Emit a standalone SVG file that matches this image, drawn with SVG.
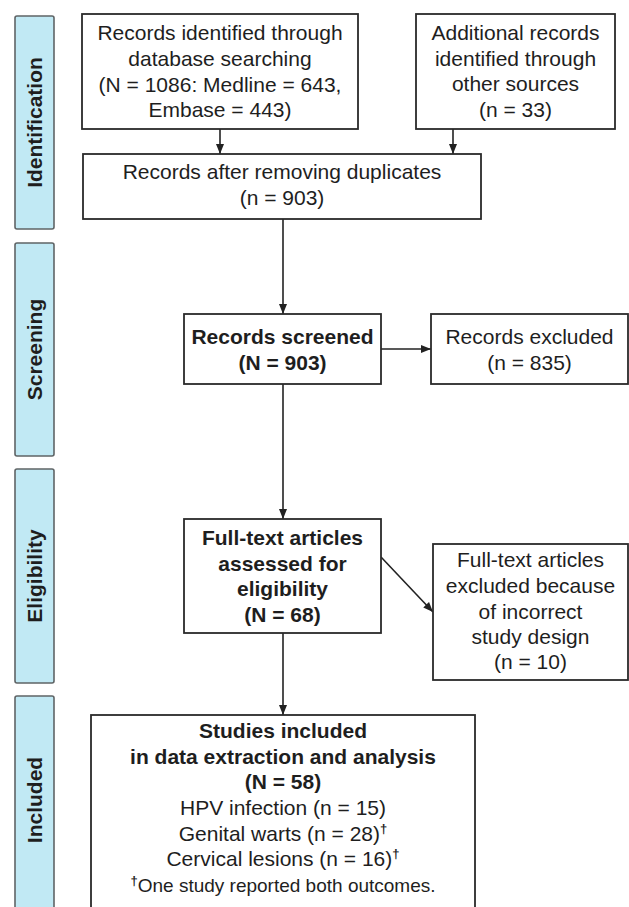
<svg xmlns="http://www.w3.org/2000/svg" width="629" height="907" viewBox="0 0 629 907">
<defs>
<marker id="ah" viewBox="0 0 10 10" refX="10" refY="5" markerWidth="10" markerHeight="10" markerUnits="userSpaceOnUse" orient="auto">
<path d="M0,1 L10,5 L0,9 Z" fill="#222"/>
</marker>
<style>
.bar{fill:#c1e9f4;stroke:#5f6466;stroke-width:1.6}
.bl{font-family:"Liberation Sans",Arial,sans-serif;font-size:21px;font-weight:bold;fill:#1e1e1e;text-anchor:middle}
.box{fill:#fff;stroke:#2a2a2a;stroke-width:1.8}
.t{font-family:"Liberation Sans",Arial,sans-serif;font-size:21px;fill:#1e1e1e;text-anchor:middle}
.b{font-weight:bold}
.fn{font-size:19px}
.sup{font-size:13px}
.c{stroke:#222;stroke-width:1.6;fill:none;marker-end:url(#ah)}
</style>
</defs>
<rect width="629" height="907" fill="#fff"/>

<g id="phase-identification">
<rect class="bar" x="15" y="16" width="39" height="213" rx="2"/>
<text class="bl" transform="translate(42,122.5) rotate(-90)">Identification</text>
</g>
<g id="phase-screening">
<rect class="bar" x="15" y="243" width="39" height="213" rx="2"/>
<text class="bl" transform="translate(42,349.5) rotate(-90)">Screening</text>
</g>
<g id="phase-eligibility">
<rect class="bar" x="15" y="469" width="39" height="214" rx="2"/>
<text class="bl" transform="translate(42,576) rotate(-90)">Eligibility</text>
</g>
<g id="phase-included">
<rect class="bar" x="15" y="696" width="39" height="230" rx="2"/>
<text class="bl" transform="translate(42,800) rotate(-90)">Included</text>
</g>

<g id="connectors">
<line class="c" x1="220" y1="129" x2="220" y2="154"/>
<line class="c" x1="453" y1="129" x2="453" y2="154"/>
<line class="c" x1="283" y1="219" x2="283" y2="314"/>
<line class="c" x1="381" y1="349" x2="431" y2="349"/>
<line class="c" x1="283" y1="384" x2="283" y2="519"/>
<line class="c" x1="381" y1="557" x2="433" y2="612"/>
<line class="c" x1="283" y1="633" x2="283" y2="715"/>
</g>

<g id="db-records">
<rect class="box" x="82" y="14" width="276" height="115"/>
<text class="t" x="220" y="40">Records identified through</text>
<text class="t" x="220" y="66">database searching</text>
<text class="t" x="220" y="92">(N = 1086: Medline = 643,</text>
<text class="t" x="220" y="117">Embase = 443)</text>
</g>
<g id="other-records">
<rect class="box" x="416" y="14" width="199" height="115"/>
<text class="t" x="515.5" y="40">Additional records</text>
<text class="t" x="515.5" y="66">identified through</text>
<text class="t" x="515.5" y="91">other sources</text>
<text class="t" x="515.5" y="117">(n = 33)</text>
</g>
<g id="dedup">
<rect class="box" x="83" y="154" width="398" height="65"/>
<text class="t" x="282" y="179">Records after removing duplicates</text>
<text class="t" x="282" y="205">(n = 903)</text>
</g>
<g id="screened">
<rect class="box" x="184" y="314" width="197" height="70"/>
<text class="t b" x="282.5" y="344">Records screened</text>
<text class="t b" x="282.5" y="370">(N = 903)</text>
</g>
<g id="excluded">
<rect class="box" x="431" y="314" width="197" height="70"/>
<text class="t" x="529.5" y="344">Records excluded</text>
<text class="t" x="529.5" y="370">(n = 835)</text>
</g>
<g id="fulltext">
<rect class="box" x="184" y="519" width="197" height="114"/>
<text class="t b" x="282.5" y="545">Full-text articles</text>
<text class="t b" x="282.5" y="571">assessed for</text>
<text class="t b" x="282.5" y="596">eligibility</text>
<text class="t b" x="282.5" y="622">(N = 68)</text>
</g>
<g id="fulltext-excluded">
<rect class="box" x="433" y="544" width="195" height="136"/>
<text class="t" x="530.5" y="567">Full-text articles</text>
<text class="t" x="530.5" y="593">excluded because</text>
<text class="t" x="530.5" y="619">of incorrect</text>
<text class="t" x="530.5" y="644">study design</text>
<text class="t" x="530.5" y="669">(n = 10)</text>
</g>
<g id="included">
<rect class="box" x="91" y="715" width="384" height="210"/>
<text class="t b" x="283" y="738">Studies included</text>
<text class="t b" x="283" y="764">in data extraction and analysis</text>
<text class="t b" x="283" y="789">(N = 58)</text>
<text class="t" x="283" y="815">HPV infection (n = 15)</text>
<text class="t" x="283" y="841">Genital warts (n = 28)<tspan class="sup b" dy="-8">†</tspan></text>
<text class="t" x="283" y="866">Cervical lesions (n = 16)<tspan class="sup b" dy="-8">†</tspan></text>
<text class="t fn" x="283" y="892"><tspan class="sup b" dy="-7">†</tspan><tspan dy="7">One study reported both outcomes.</tspan></text>
</g>
</svg>
